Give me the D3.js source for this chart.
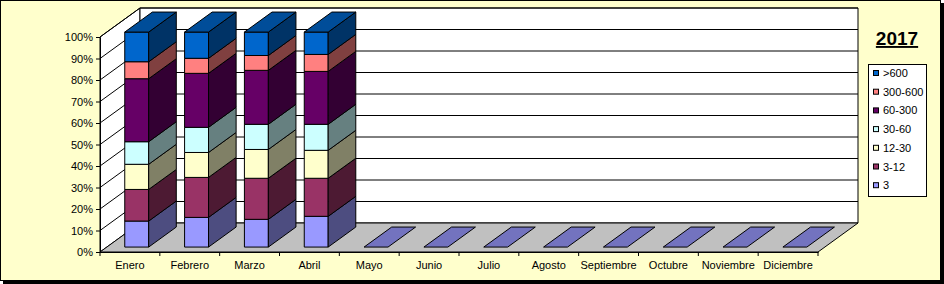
<!DOCTYPE html>
<html>
<head>
<meta charset="utf-8">
<script src="https://cdn.jsdelivr.net/npm/d3@7"></script>
<style>
  body { margin: 0; background: #fff; }
  text { font-family: Arial, "Liberation Sans", sans-serif; }
</style>
</head>
<body>
<div id="chart"></div>
<script>
'use strict';

// Data
var months = ['Enero', 'Febrero', 'Marzo', 'Abril', 'Mayo', 'Junio', 'Julio',
  'Agosto', 'Septiembre', 'Octubre', 'Noviembre', 'Diciembre'];
var seriesNames = ['3', '3-12', '12-30', '30-60', '60-300', '300-600', '>600'];
var seriesColors = ['#9999FF', '#993366', '#FFFFCC', '#CCFFFF', '#660066', '#FF8080', '#0066CC'];
var s3 = [12.1, 13.8, 12.9, 14.3, 0, 0, 0, 0, 0, 0, 0, 0];
var s3to12 = [14.7, 18.6, 19.1, 17.7, 0, 0, 0, 0, 0, 0, 0, 0];
var s12to30 = [11.7, 11.6, 13.4, 13.0, 0, 0, 0, 0, 0, 0, 0, 0];
var s30to60 = [10.5, 11.7, 11.7, 12.1, 0, 0, 0, 0, 0, 0, 0, 0];
var s60to300 = [29.3, 25.1, 25.1, 24.6, 0, 0, 0, 0, 0, 0, 0, 0];
var s300to600 = [7.9, 7.0, 6.9, 7.9, 0, 0, 0, 0, 0, 0, 0, 0];
var s600 = [13.8, 12.2, 10.9, 10.4, 0, 0, 0, 0, 0, 0, 0, 0];
var yTicks = [0, 0.1, 0.2, 0.3, 0.4, 0.5, 0.6, 0.7, 0.8, 0.9, 1];
var title = '2017';

var allSeries = [s3, s3to12, s12to30, s30to60, s60to300, s300to600, s600];

// Sizing
var width = 944, height = 284;
var depthX = 40, depthY = -29;   // 3d depth offset
var barZ0 = 0.17, barZ1 = 0.86;  // bar front/back inside the depth

var svg = d3.select('#chart').append('svg')
  .attr('width', width)
  .attr('height', height);

// frame + shadow
svg.append('rect')
  .attr('x', 3).attr('y', 3)
  .attr('width', width - 3).attr('height', height - 3)
  .attr('fill', '#000');
svg.append('rect')
  .attr('x', 0.5).attr('y', 0.5)
  .attr('width', 940).attr('height', 280)
  .attr('fill', '#FFFFCC')
  .attr('stroke', '#000');

var x = d3.scaleBand().domain(months).range([100, 818]);
var y = d3.scaleLinear().domain([0, 1]).range([252, 37]);

function pt(px, py, z) {
  return [px + z * depthX, py + z * depthY];
}
function poly(points) {
  return 'M' + points.map(function(p) { return p[0] + ',' + p[1]; }).join('L') + 'Z';
}

var x0 = x.range()[0], x1 = x.range()[1];
var walls = svg.append('g').attr('class', 'walls');

// left wall
walls.append('path')
  .attr('d', poly([pt(x0, y(0), 0), pt(x0, y(1), 0), pt(x0, y(1), 1), pt(x0, y(0), 1)]))
  .attr('fill', '#fff').attr('stroke', '#000');
// back wall
walls.append('path')
  .attr('d', poly([pt(x0, y(0), 1), pt(x0, y(1), 1), pt(x1, y(1), 1), pt(x1, y(0), 1)]))
  .attr('fill', '#fff').attr('stroke', '#000');
// floor
walls.append('path')
  .attr('d', poly([pt(x0, y(0), 0), pt(x1, y(0), 0), pt(x1, y(0), 1), pt(x0, y(0), 1)]))
  .attr('fill', '#C0C0C0').attr('stroke', '#000');

// gridlines
walls.selectAll('path.grid')
  .data(yTicks.slice(1))
  .enter()
  .append('path')
  .attr('class', 'grid')
  .attr('d', function(d) {
    var a = pt(x0, y(d), 0), b = pt(x0, y(d), 1), c = pt(x1, y(d), 1);
    return 'M' + a + 'L' + b + 'L' + c;
  })
  .attr('fill', 'none')
  .attr('stroke', '#000');

// y axis
var yAxis = d3.axisLeft(y)
  .tickValues(yTicks)
  .tickSize(4)
  .tickPadding(3)
  .tickFormat(d3.format('.0%'));
svg.append('g')
  .attr('class', 'yAxis')
  .attr('transform', 'translate(' + x0 + ',0)')
  .call(yAxis)
  .call(function(g) {
    g.selectAll('text').attr('font-size', 11).attr('fill', '#000');
    g.select('.domain').attr('stroke', '#000');
  });

// x axis
var xAxis = d3.axisBottom(x).tickSize(0).tickPadding(9);
var xg = svg.append('g')
  .attr('class', 'xAxis')
  .attr('transform', 'translate(0,' + y(0) + ')')
  .call(xAxis);
xg.select('.domain').attr('stroke', '#000');
xg.selectAll('text').attr('font-size', 11).attr('fill', '#000');
xg.selectAll('line.sep')
  .data(months.map(function(m) { return x(m); }).concat([x1]))
  .enter()
  .append('line')
  .attr('class', 'sep')
  .attr('x1', function(d) { return d; })
  .attr('x2', function(d) { return d; })
  .attr('y1', 0).attr('y2', 4)
  .attr('stroke', '#000');

// stacked 100% bars
var rows = months.map(function(m, i) {
  var row = { month: m };
  seriesNames.forEach(function(s, j) { row[s] = allSeries[j][i]; });
  return row;
});
var stacked = d3.stack()
  .keys(seriesNames)
  .offset(d3.stackOffsetExpand)(rows);

function shade(c, k) {
  var r = d3.rgb(c);
  return d3.rgb(r.r * k, r.g * k, r.b * k).toString();
}

var bars = svg.append('g').attr('class', 'bars');
var barW = x.bandwidth() * 0.4;

months.forEach(function(m, i) {
  var bx0 = x(m) + (x.bandwidth() - barW) / 2;
  var bx1 = bx0 + barW;
  var g = bars.append('g').attr('class', 'bar');
  var topColor = seriesColors[0];
  var topVal = 0;
  stacked.forEach(function(layer, j) {
    var v0 = layer[i][0], v1 = layer[i][1];
    if (!(v1 - v0 > 0)) return;
    var c = seriesColors[j];
    g.append('path')
      .attr('d', poly([pt(bx0, y(v0), barZ0), pt(bx1, y(v0), barZ0), pt(bx1, y(v1), barZ0), pt(bx0, y(v1), barZ0)]))
      .attr('fill', c).attr('stroke', '#000');
    g.append('path')
      .attr('d', poly([pt(bx1, y(v0), barZ0), pt(bx1, y(v0), barZ1), pt(bx1, y(v1), barZ1), pt(bx1, y(v1), barZ0)]))
      .attr('fill', shade(c, 0.5)).attr('stroke', '#000');
    topColor = c;
    topVal = v1;
  });
  if (!(topVal > 0)) topVal = 0;
  g.append('path')
    .attr('d', poly([pt(bx0, y(topVal), barZ0), pt(bx1, y(topVal), barZ0), pt(bx1, y(topVal), barZ1), pt(bx0, y(topVal), barZ1)]))
    .attr('fill', shade(topColor, 0.75)).attr('stroke', '#000');
});

// title
svg.append('text')
  .attr('x', 897).attr('y', 45)
  .attr('text-anchor', 'middle')
  .attr('font-size', 19)
  .attr('font-weight', 'bold')
  .attr('text-decoration', 'underline')
  .text(title);

// legend
var legend = svg.append('g').attr('class', 'legend');
legend.append('rect')
  .attr('x', 868.5).attr('y', 64.5)
  .attr('width', 58).attr('height', 132)
  .attr('fill', '#fff').attr('stroke', '#000');
var items = legend.selectAll('g.item')
  .data(seriesNames.slice().reverse())
  .enter()
  .append('g')
  .attr('class', 'item')
  .attr('transform', function(d, i) { return 'translate(0,' + (73 + i * 18.7) + ')'; });
items.append('rect')
  .attr('x', 873.5).attr('y', -2.5)
  .attr('width', 5).attr('height', 5)
  .attr('fill', function(d) { return seriesColors[seriesNames.indexOf(d)]; })
  .attr('stroke', '#000');
items.append('text')
  .attr('x', 883).attr('y', 4)
  .attr('font-size', 11)
  .text(function(d) { return d; });
</script>
</body>
</html>
